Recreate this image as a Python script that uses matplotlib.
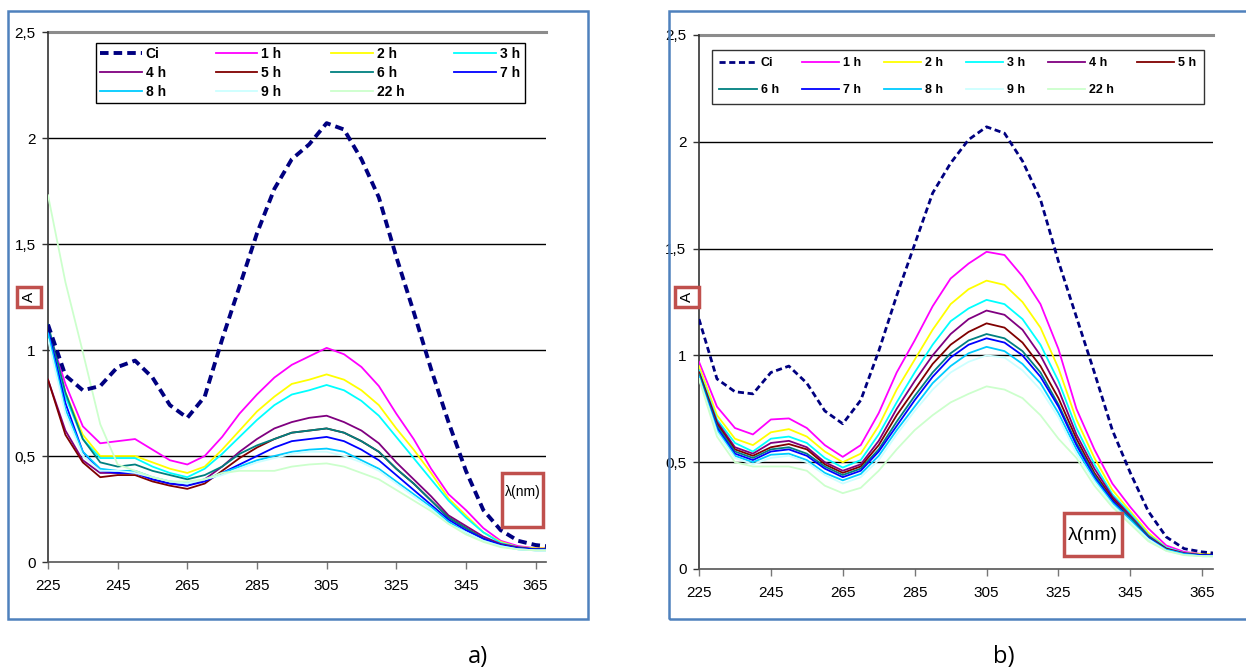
import matplotlib
matplotlib.use("Agg")
import matplotlib.pyplot as plt
from matplotlib.patches import Rectangle
from matplotlib.ticker import FuncFormatter

plt.rcParams['font.family'] = ['Liberation Sans Narrow', 'Liberation Sans', 'DejaVu Sans']

# wavelengths (nm)
wl = [225, 230, 235, 240, 245, 250, 255, 260, 265, 270, 275, 280, 285, 290, 295,
      300, 305, 310, 315, 320, 325, 330, 335, 340, 345, 350, 355, 360, 365, 368]

labels = ['Ci', '1 h', '2 h', '3 h', '4 h', '5 h', '6 h', '7 h', '8 h', '9 h', '22 h']
colors = ['#000080', '#FF00FF', '#FFFF00', '#00FFFF', '#800080', '#800000',
          '#008080', '#0000FF', '#00CCFF', '#CCFFFF', '#CCFFCC']

# panel a)
a_ci  = [1.12, 0.88, 0.81, 0.83, 0.92, 0.95, 0.87, 0.74, 0.68, 0.78, 1.05, 1.30, 1.55, 1.76, 1.90,
         1.97, 2.07, 2.04, 1.90, 1.72, 1.44, 1.18, 0.91, 0.66, 0.43, 0.245, 0.15, 0.10, 0.08, 0.075]
a_1h  = [1.10, 0.84, 0.64, 0.56, 0.57, 0.58, 0.53, 0.48, 0.46, 0.50, 0.59, 0.70, 0.79, 0.87, 0.93,
         0.97, 1.01, 0.98, 0.92, 0.83, 0.70, 0.58, 0.44, 0.32, 0.245, 0.16, 0.10, 0.075, 0.065, 0.065]
a_2h  = [1.10, 0.80, 0.60, 0.50, 0.50, 0.50, 0.47, 0.44, 0.42, 0.45, 0.53, 0.62, 0.71, 0.78, 0.84,
         0.86, 0.885, 0.86, 0.81, 0.74, 0.63, 0.53, 0.42, 0.30, 0.22, 0.14, 0.095, 0.07, 0.065, 0.065]
a_3h  = [1.08, 0.78, 0.58, 0.49, 0.49, 0.49, 0.45, 0.42, 0.40, 0.44, 0.51, 0.59, 0.67, 0.74, 0.79,
         0.81, 0.835, 0.81, 0.76, 0.69, 0.59, 0.49, 0.39, 0.29, 0.21, 0.14, 0.09, 0.07, 0.06, 0.06]
a_4h  = [0.86, 0.62, 0.48, 0.42, 0.42, 0.42, 0.39, 0.37, 0.36, 0.39, 0.45, 0.52, 0.58, 0.63, 0.66,
         0.68, 0.69, 0.66, 0.62, 0.56, 0.47, 0.39, 0.31, 0.22, 0.17, 0.12, 0.085, 0.07, 0.06, 0.06]
a_5h  = [0.86, 0.60, 0.47, 0.40, 0.41, 0.41, 0.38, 0.36, 0.345, 0.37, 0.43, 0.49, 0.54, 0.58, 0.61,
         0.62, 0.63, 0.61, 0.57, 0.52, 0.44, 0.37, 0.29, 0.21, 0.16, 0.11, 0.08, 0.065, 0.06, 0.06]
a_6h  = [1.12, 0.80, 0.58, 0.47, 0.45, 0.46, 0.43, 0.41, 0.39, 0.41, 0.45, 0.51, 0.55, 0.58, 0.61,
         0.62, 0.63, 0.61, 0.57, 0.52, 0.44, 0.37, 0.29, 0.21, 0.16, 0.11, 0.08, 0.065, 0.06, 0.06]
a_7h  = [1.10, 0.75, 0.52, 0.43, 0.42, 0.42, 0.39, 0.37, 0.36, 0.38, 0.42, 0.46, 0.50, 0.54, 0.57,
         0.58, 0.59, 0.57, 0.53, 0.48, 0.41, 0.34, 0.27, 0.20, 0.15, 0.11, 0.08, 0.065, 0.06, 0.06]
a_8h  = [1.08, 0.72, 0.52, 0.44, 0.43, 0.43, 0.40, 0.38, 0.37, 0.39, 0.42, 0.45, 0.48, 0.50, 0.52,
         0.53, 0.535, 0.52, 0.48, 0.44, 0.38, 0.32, 0.26, 0.19, 0.14, 0.10, 0.075, 0.06, 0.055, 0.055]
a_9h  = [1.05, 0.70, 0.50, 0.43, 0.43, 0.42, 0.40, 0.38, 0.37, 0.39, 0.41, 0.44, 0.47, 0.49, 0.51,
         0.52, 0.52, 0.50, 0.47, 0.43, 0.37, 0.31, 0.25, 0.18, 0.14, 0.10, 0.075, 0.06, 0.055, 0.055]
a_22h = [1.73, 1.32, 0.99, 0.65, 0.46, 0.43, 0.40, 0.38, 0.38, 0.39, 0.42, 0.43, 0.43, 0.43, 0.45,
         0.46, 0.465, 0.45, 0.42, 0.39, 0.34, 0.29, 0.24, 0.18, 0.13, 0.095, 0.07, 0.06, 0.055, 0.055]

# panel b)
b_ci  = [1.17, 0.89, 0.83, 0.82, 0.92, 0.95, 0.87, 0.74, 0.68, 0.79, 1.02, 1.28, 1.52, 1.76, 1.90,
         2.01, 2.07, 2.04, 1.91, 1.73, 1.44, 1.18, 0.92, 0.65, 0.45, 0.27, 0.15, 0.095, 0.08, 0.075]
b_1h  = [0.97, 0.76, 0.66, 0.63, 0.70, 0.705, 0.66, 0.58, 0.525, 0.58, 0.73, 0.92, 1.07, 1.23, 1.36,
         1.43, 1.485, 1.47, 1.37, 1.24, 1.03, 0.75, 0.56, 0.40, 0.29, 0.19, 0.11, 0.08, 0.07, 0.07]
b_2h  = [0.95, 0.72, 0.61, 0.58, 0.64, 0.655, 0.62, 0.55, 0.50, 0.54, 0.67, 0.84, 0.98, 1.12, 1.24,
         1.31, 1.35, 1.33, 1.25, 1.13, 0.94, 0.70, 0.52, 0.37, 0.27, 0.17, 0.10, 0.075, 0.07, 0.07]
b_3h  = [0.93, 0.70, 0.59, 0.55, 0.61, 0.62, 0.59, 0.52, 0.475, 0.51, 0.63, 0.78, 0.92, 1.05, 1.16,
         1.22, 1.26, 1.24, 1.17, 1.05, 0.88, 0.66, 0.49, 0.35, 0.26, 0.16, 0.10, 0.075, 0.065, 0.065]
b_4h  = [0.92, 0.69, 0.57, 0.54, 0.59, 0.60, 0.57, 0.50, 0.46, 0.49, 0.60, 0.75, 0.88, 1.00, 1.10,
         1.17, 1.21, 1.19, 1.12, 1.00, 0.84, 0.63, 0.47, 0.34, 0.25, 0.155, 0.095, 0.075, 0.065, 0.065]
b_5h  = [0.92, 0.68, 0.56, 0.53, 0.57, 0.585, 0.56, 0.49, 0.45, 0.48, 0.58, 0.72, 0.84, 0.96, 1.05,
         1.11, 1.15, 1.13, 1.06, 0.95, 0.80, 0.61, 0.45, 0.33, 0.24, 0.15, 0.095, 0.07, 0.065, 0.065]
b_6h  = [0.91, 0.67, 0.55, 0.52, 0.56, 0.57, 0.54, 0.48, 0.44, 0.47, 0.56, 0.69, 0.81, 0.92, 1.01,
         1.07, 1.10, 1.08, 1.02, 0.92, 0.77, 0.59, 0.44, 0.32, 0.24, 0.15, 0.09, 0.07, 0.065, 0.065]
b_7h  = [0.90, 0.66, 0.54, 0.51, 0.55, 0.56, 0.53, 0.47, 0.43, 0.46, 0.55, 0.67, 0.79, 0.90, 0.99,
         1.05, 1.08, 1.06, 1.00, 0.90, 0.76, 0.58, 0.43, 0.32, 0.23, 0.145, 0.09, 0.07, 0.065, 0.065]
b_8h  = [0.90, 0.65, 0.53, 0.50, 0.535, 0.54, 0.51, 0.45, 0.415, 0.445, 0.53, 0.65, 0.76, 0.87, 0.95,
         1.01, 1.04, 1.02, 0.96, 0.87, 0.73, 0.56, 0.42, 0.31, 0.23, 0.14, 0.09, 0.07, 0.06, 0.06]
b_9h  = [0.89, 0.64, 0.52, 0.49, 0.52, 0.53, 0.50, 0.44, 0.40, 0.43, 0.51, 0.63, 0.74, 0.84, 0.92,
         0.97, 1.00, 0.99, 0.93, 0.84, 0.71, 0.54, 0.41, 0.30, 0.22, 0.14, 0.085, 0.065, 0.06, 0.06]
b_22h = [0.89, 0.62, 0.50, 0.48, 0.48, 0.48, 0.46, 0.39, 0.355, 0.38, 0.46, 0.56, 0.65, 0.72, 0.78,
         0.82, 0.855, 0.84, 0.80, 0.72, 0.61, 0.52, 0.39, 0.29, 0.21, 0.13, 0.085, 0.065, 0.06, 0.06]

series_a = [a_ci, a_1h, a_2h, a_3h, a_4h, a_5h, a_6h, a_7h, a_8h, a_9h, a_22h]
series_b = [b_ci, b_1h, b_2h, b_3h, b_4h, b_5h, b_6h, b_7h, b_8h, b_9h, b_22h]

W, H = 1246, 671
fig = plt.figure(figsize=(W / 100, H / 100), dpi=100)


def px_box(x0, y0, x1, y1):
    # pixel box (top-left origin) -> figure fraction rect
    return [x0 / W, 1 - y1 / H, (x1 - x0) / W, (y1 - y0) / H]


def comma(v, pos):
    return ('%g' % v).replace('.', ',')


def draw_panel(rect, data, ci_lw, lw, ncol, order, leg_box, leg_fs, lsp, bpad):
    ax = fig.add_axes(rect)
    lines = []
    for i in range(len(data)):
        if i == 0:
            ln, = ax.plot(wl, data[i], color=colors[i], lw=ci_lw, ls=(0, (2.2, 1.3)),
                          label=labels[i], zorder=4)
        else:
            ln, = ax.plot(wl, data[i], color=colors[i], lw=lw, label=labels[i], zorder=3)
        lines.append(ln)
    ax.set_xlim(225, 368)
    ax.set_ylim(0, 2.5)
    ax.set_xticks(range(225, 366, 20))
    ax.set_yticks([0, 0.5, 1, 1.5, 2, 2.5])
    ax.yaxis.set_major_formatter(FuncFormatter(comma))
    for y in [0.5, 1, 1.5, 2]:
        ax.axhline(y, color='black', lw=1.0, zorder=1)
    ax.axhline(2.5, color='#8c8c8c', lw=2.2, zorder=1, clip_on=False)
    ax.spines['top'].set_visible(False)
    ax.spines['right'].set_visible(False)
    ax.spines['left'].set_color('#333333')
    ax.spines['bottom'].set_color('#555555')
    ax.spines['left'].set_linewidth(1.2)
    ax.spines['bottom'].set_linewidth(1.2)
    ax.tick_params(axis='y', length=4, width=1, color='#333333', labelsize=11, pad=5)
    ax.tick_params(axis='x', length=5, width=1, color='#777777', labelsize=11, pad=7)
    # legend filled row by row like the original
    leg = ax.legend([lines[k] for k in order], [labels[k] for k in order],
                    ncol=ncol, loc='upper left', bbox_to_anchor=leg_box, mode='expand',
                    borderaxespad=0, fontsize=leg_fs, frameon=True, fancybox=False,
                    framealpha=1, edgecolor='black', handlelength=3.0, handletextpad=0.3,
                    borderpad=bpad, labelspacing=lsp, columnspacing=1.0)
    leg.get_frame().set_linewidth(1.0)
    for t in leg.get_texts():
        t.set_fontweight('bold')
    return ax


ax_a = draw_panel(px_box(48, 32, 546, 562), series_a, 2.8, 1.3, 4,
                  [0, 4, 8, 1, 5, 9, 2, 6, 10, 3, 7],
                  (0.096, 0.870, 0.861, 0.109), 10, 0.35, 0.3)
ax_b = draw_panel(px_box(699, 35, 1213, 569), series_b, 2.0, 1.3, 6,
                  [0, 6, 1, 7, 2, 8, 3, 9, 4, 10, 5],
                  (0.025, 0.856, 0.957, 0.116), 9, 1.2, 0.6)
ax_b.get_legend().get_frame().set_edgecolor('#333333')

# blue frames round the two panels
fig.add_artist(Rectangle((8 / W, 1 - 619 / H), 580 / W, 608 / H, transform=fig.transFigure,
                         fill=False, edgecolor='#4F81BD', lw=1.8))
fig.add_artist(Rectangle((669 / W, 1 - 619 / H), 600 / W, 608 / H, transform=fig.transFigure,
                         fill=False, edgecolor='#4F81BD', lw=1.8, clip_on=False))

# "A" labels in red boxes
for cx in (29, 687):
    fig.text(cx / W, 1 - 297 / H, 'A', rotation=90, ha='center', va='center', fontsize=11,
             bbox=dict(boxstyle='square,pad=0.3', facecolor='white', edgecolor='#C0504D', lw=2.5))

# lambda(nm) boxes
fig.add_artist(Rectangle((502 / W, 1 - 527 / H), 41 / W, 54 / H, transform=fig.transFigure,
                         facecolor='white', edgecolor='#C0504D', lw=2.5))
fig.text(522.5 / W, 1 - 492 / H, 'λ(nm)', ha='center', va='center', fontsize=10)
fig.add_artist(Rectangle((1064 / W, 1 - 556 / H), 58 / W, 43 / H, transform=fig.transFigure,
                         facecolor='white', edgecolor='#C0504D', lw=2.5))
fig.text(1093 / W, 1 - 535 / H, 'λ(nm)', ha='center', va='center', fontsize=14)

fig.text(478 / W, 1 - 657 / H, 'a)', ha='center', va='center', fontsize=17,
         family=['Open Sans', 'DejaVu Sans'])
fig.text(1004 / W, 1 - 657 / H, 'b)', ha='center', va='center', fontsize=17,
         family=['Open Sans', 'DejaVu Sans'])

fig.savefig('out.png', dpi=100)
